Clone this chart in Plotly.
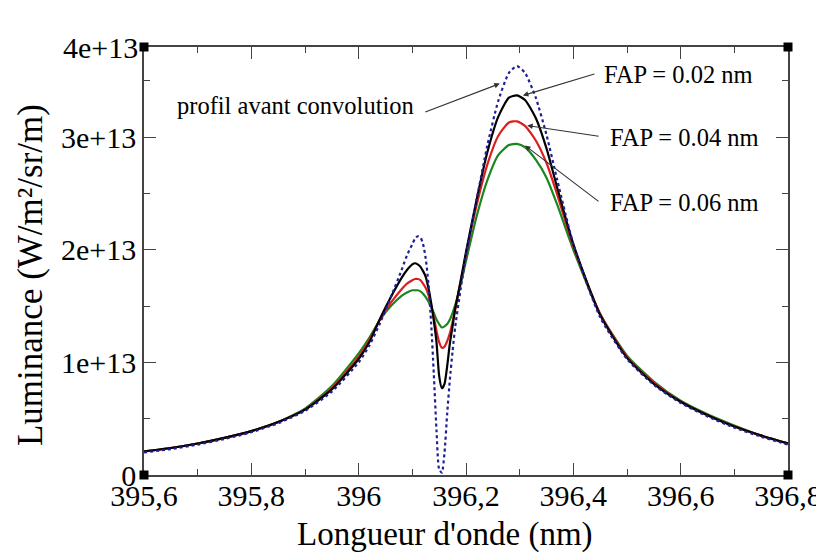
import plotly.graph_objects as go

# wavelength grid (nm)
wavelength = [395.60, 395.65, 395.70, 395.75, 395.80, 395.85, 395.90, 395.95, 396.00, 396.02,
              396.04, 396.06, 396.08, 396.09, 396.10, 396.105, 396.11, 396.115, 396.12, 396.125,
              396.13, 396.135, 396.14, 396.145, 396.15, 396.155, 396.16, 396.165, 396.17, 396.175,
              396.18, 396.19, 396.20, 396.22, 396.24, 396.26, 396.28, 396.295, 396.31, 396.33,
              396.35, 396.37, 396.40, 396.45, 396.50, 396.55, 396.60, 396.65, 396.70, 396.75, 396.80]

# luminance, in units of 1e13 W/m²/sr/m
profil_avant = [0.20, 0.23, 0.27, 0.32, 0.38, 0.46, 0.57, 0.74, 1.00, 1.15,
                1.35, 1.58, 1.82, 1.95, 2.05, 2.10, 2.12, 2.11, 2.05, 1.92,
                1.70, 1.35, 0.90, 0.40, 0.05, 0.02, 0.20, 0.55, 0.85, 1.10,
                1.32, 1.65, 1.95, 2.45, 2.93, 3.32, 3.57, 3.63, 3.57, 3.35,
                3.02, 2.62, 2.05, 1.40, 1.03, 0.80, 0.64, 0.52, 0.42, 0.34, 0.27]

fap_002 = [0.21, 0.24, 0.28, 0.33, 0.39, 0.47, 0.58, 0.76, 1.03, 1.18,
           1.39, 1.58, 1.75, 1.82, 1.87, 1.88, 1.87, 1.85, 1.81, 1.76,
           1.66, 1.53, 1.37, 1.18, 0.88, 0.77, 0.81, 0.97, 1.17, 1.32,
           1.48, 1.72, 1.98, 2.45, 2.87, 3.18, 3.35, 3.37, 3.33, 3.17,
           2.90, 2.55, 2.05, 1.42, 1.04, 0.81, 0.65, 0.53, 0.43, 0.35, 0.28]

fap_004 = [0.21, 0.24, 0.28, 0.33, 0.39, 0.47, 0.58, 0.77, 1.05, 1.20,
           1.38, 1.53, 1.65, 1.70, 1.73, 1.74, 1.74, 1.73, 1.70, 1.66,
           1.60, 1.51, 1.40, 1.28, 1.18, 1.13, 1.14, 1.19, 1.26, 1.36,
           1.47, 1.72, 1.96, 2.40, 2.76, 3.01, 3.13, 3.14, 3.10, 2.97,
           2.77, 2.49, 2.03, 1.43, 1.05, 0.82, 0.65, 0.53, 0.43, 0.35, 0.28]

fap_006 = [0.21, 0.24, 0.28, 0.33, 0.39, 0.47, 0.59, 0.79, 1.08, 1.22,
           1.38, 1.50, 1.59, 1.62, 1.64, 1.64, 1.64, 1.63, 1.61, 1.58,
           1.54, 1.49, 1.44, 1.38, 1.34, 1.31, 1.32, 1.34, 1.38, 1.44,
           1.51, 1.69, 1.90, 2.30, 2.62, 2.84, 2.93, 2.94, 2.91, 2.80,
           2.64, 2.40, 2.00, 1.43, 1.06, 0.83, 0.66, 0.54, 0.44, 0.35, 0.28]

x_ticks = [395.6, 395.8, 396.0, 396.2, 396.4, 396.6, 396.8]
x_tick_labels = ["395,6", "395,8", "396", "396,2", "396,4", "396,6", "396,8"]
y_ticks = [0, 1e13, 2e13, 3e13]
y_tick_labels = ["0", "1e+13", "2e+13", "3e+13"]

scale = 1e13
FONT = "Liberation Serif, Times New Roman, serif"

fig = go.Figure()
series = [
    (fap_006, "FAP = 0.06 nm", dict(color="rgb(25,135,30)", width=2.2)),
    (fap_004, "FAP = 0.04 nm", dict(color="rgb(220,30,30)", width=2.2)),
    (fap_002, "FAP = 0.02 nm", dict(color="black", width=2.2)),
    (profil_avant, "profil avant convolution", dict(color="rgb(30,30,150)", width=2.2, dash="dot")),
]
for vals, name, line in series:
    fig.add_trace(go.Scatter(x=wavelength, y=[v * scale for v in vals], mode="lines",
                             line=dict(shape="spline", smoothing=0.6, **line), name=name,
                             showlegend=False))

axis_common = dict(
    showline=True, linecolor="#444", linewidth=1.6, mirror="allticks",
    ticks="inside", ticklen=12, tickwidth=1.2, tickcolor="#444",
    showgrid=False, zeroline=False, automargin=False,
    tickfont=dict(family=FONT, size=30, color="black"),
    minor=dict(ticks="inside", ticklen=6, tickwidth=1.2, tickcolor="#444", showgrid=False),
)

fig.update_xaxes(range=[395.6, 396.8], tickvals=x_ticks, ticktext=x_tick_labels,
                 minor_dtick=0.1, ticklabelstandoff=-7,
                 **axis_common)
fig.update_yaxes(range=[0, 3.8e13], tickvals=y_ticks, ticktext=y_tick_labels,
                 minor_tickvals=[0.5e13, 1.5e13, 2.5e13, 3.5e13],
                 **axis_common)

# axis titles
fig.add_annotation(xref="paper", yref="paper", x=0.467, y=-0.14, xanchor="center", yanchor="middle",
                   text="Longueur d'onde (nm)", showarrow=False,
                   font=dict(family=FONT, size=33, color="black"))
fig.add_annotation(xref="paper", yref="paper", x=-0.177, y=0.5, xanchor="center", yanchor="middle",
                   yshift=-14, textangle=-90,
                   text="Luminance (W/m²/sr/m)", showarrow=False,
                   font=dict(family=FONT, size=35, color="black"))

# top tick label
fig.add_annotation(xref="paper", yref="paper", x=0, y=1, xanchor="right", yanchor="middle",
                   xshift=-4, text="4e+13", showarrow=False,
                   font=dict(family=FONT, size=30, color="black"))

# curve labels and arrows
label_font = dict(family=FONT, size=24.5, color="black")
fig.add_annotation(x=395.658, y=3.28e13, text="profil avant convolution", showarrow=False,
                   xanchor="left", yanchor="middle", font=label_font)
fig.add_annotation(x=396.453, y=3.56e13, text="FAP = 0.02 nm", showarrow=False,
                   xanchor="left", yanchor="middle", font=label_font)
fig.add_annotation(x=396.464, y=3.00e13, text="FAP = 0.04 nm", showarrow=False,
                   xanchor="left", yanchor="middle", font=label_font)
fig.add_annotation(x=396.464, y=2.42e13, text="FAP = 0.06 nm", showarrow=False,
                   xanchor="left", yanchor="middle", font=label_font)

arrows = [
    (396.263, 3.475e13, -76, 29),
    (396.306, 3.369e13, 73, -22),
    (396.314, 3.103e13, 73, 11),
    (396.310, 2.925e13, 75, 57),
]
for ax_x, ax_y, dx, dy in arrows:
    fig.add_annotation(x=ax_x, y=ax_y, ax=dx, ay=dy, text="", showarrow=True,
                       arrowhead=2, arrowsize=1, arrowwidth=1.1, arrowcolor="#333")

# corner squares (Grace-style graph markers)
for cx, cy in [(0, 0), (1, 0), (0, 1), (1, 1)]:
    fig.add_shape(type="rect", xref="paper", yref="paper", xsizemode="pixel", ysizemode="pixel",
                  xanchor=cx, yanchor=cy, x0=-4.5, x1=4.5, y0=-4.5, y1=4.5,
                  fillcolor="black", line=dict(width=0), layer="above")

# page body has an 8px margin, so the figure is offset by 8px
fig.update_layout(
    width=816, height=545,
    margin=dict(l=136, r=36, t=39, b=78),
    paper_bgcolor="white", plot_bgcolor="white",
    font=dict(family=FONT, color="black"),
    showlegend=False,
)

fig.write_html("out.html")
